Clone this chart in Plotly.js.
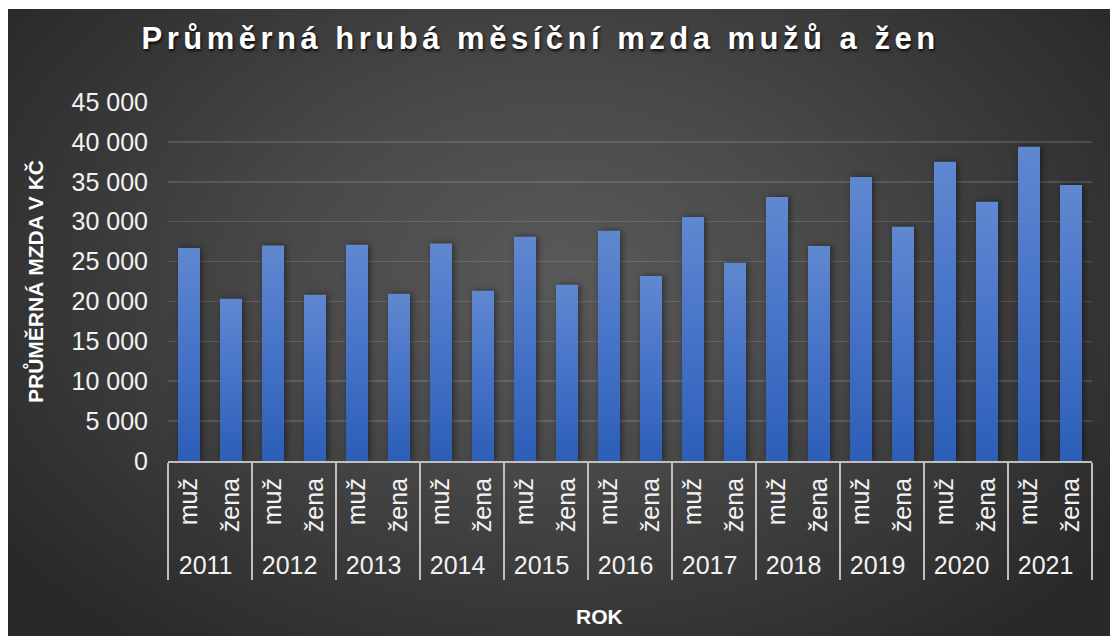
<!DOCTYPE html>
<html>
<head>
<meta charset="utf-8">
<script src="https://cdn.plot.ly/plotly-3.0.1.min.js"></script>
<style>
  html, body { margin: 0; padding: 0; background: #ffffff; }
  #wrap { position: relative; width: 1110px; height: 636px; overflow: hidden; background: #ffffff; }
  #bg { position: absolute; left: 8px; top: 9px; right: 0; bottom: 0;
        background: radial-gradient(ellipse 62% 75% at 50% 42%, #595959 0%, #494949 40%, #363636 75%, #292929 100%); }
  #chart { position: absolute; left: 0; top: 0; width: 1110px; height: 636px; }
  .gtitle { letter-spacing: 4.5px; }
</style>
</head>
<body>
<div id="wrap">
  <div id="bg"></div>
  <div id="chart"></div>
</div>
<script>
// ---- data ----
const years = ['2011','2012','2013','2014','2015','2016','2017','2018','2019','2020','2021'];
const sexLabels = ['muž', 'žena'];
const men   = [26700, 27000, 27100, 27250, 28100, 28850, 30600, 33100, 35600, 37500, 39400];
const women = [20350, 20850, 20950, 21350, 22100, 23200, 24850, 26950, 29350, 32500, 34600];
const titleText = 'Průměrná hrubá měsíční mzda mužů a žen';
const yTitle = 'PRŮMĚRNÁ MZDA V KČ';
const xTitle = 'ROK';

// interleave into a multicategory trace
const xOuter = [], xInner = [], yVals = [];
years.forEach((yr, i) => {
  xOuter.push(yr); xInner.push(sexLabels[0]); yVals.push(men[i]);
  xOuter.push(yr); xInner.push(sexLabels[1]); yVals.push(women[i]);
});

const trace = {
  type: 'bar',
  x: [xOuter, xInner],
  y: yVals,
  marker: { color: '#4472C4', line: { width: 0 } },
  hoverinfo: 'x+y'
};

const font = 'Liberation Sans, Arial, sans-serif';

const layout = {
  width: 1110,
  height: 636,
  paper_bgcolor: 'rgba(0,0,0,0)',
  plot_bgcolor: 'rgba(0,0,0,0)',
  margin: { l: 168, r: 18, t: 102, b: 175 },
  separators: ', ',
  showlegend: false,
  bargap: 0.476,
  font: { family: font, color: '#f2f2f2', size: 25 },
  title: {
    text: titleText,
    font: { family: font, size: 31, weight: 'bold', color: '#ffffff',
            shadow: '1px 2px 3px rgba(0,0,0,0.85)' },
    xref: 'container', x: 0.487, xanchor: 'center',
    yref: 'container', y: 0.94, yanchor: 'middle'
  },
  xaxis: {
    type: 'multicategory',
    showline: true, linecolor: '#bfbfbf', linewidth: 2,
    showgrid: false, zeroline: false,
    ticks: '',
    tickangle: -90,
    tickfont: { family: font, size: 25, color: '#f2f2f2' },
    showdividers: true, dividercolor: '#bfbfbf', dividerwidth: 2,
    ticklabelstandoff: 5
  },
  yaxis: {
    range: [0, 45000],
    dtick: 5000,
    tickformat: ',d',
    showgrid: true, gridcolor: 'rgba(255,255,255,0.13)', gridwidth: 1.5,
    zeroline: false, showline: false, ticks: '',
    tickfont: { family: font, size: 25, color: '#f2f2f2' },
    ticklabelstandoff: 19,
    title: { text: yTitle, standoff: 22,
             font: { family: font, size: 21, weight: 'bold', color: '#ffffff' } }
  },
  annotations: [{
    text: xTitle, showarrow: false,
    xref: 'paper', x: 0.4675, xanchor: 'center',
    yref: 'paper', y: -0.4345, yanchor: 'middle',
    font: { family: font, size: 21, weight: 'bold', color: '#ffffff' }
  }]
};

Plotly.newPlot('chart', [trace], layout, { staticPlot: true, displayModeBar: false }).then(gd => {
  const svg = gd.querySelector('svg.main-svg');
  const ns = 'http://www.w3.org/2000/svg';
  let defs = svg.querySelector('defs');
  if (!defs) { defs = document.createElementNS(ns, 'defs'); svg.insertBefore(defs, svg.firstChild); }
  const grad = document.createElementNS(ns, 'linearGradient');
  grad.setAttribute('id', 'barGrad');
  grad.setAttribute('x1', '0'); grad.setAttribute('y1', '0');
  grad.setAttribute('x2', '0'); grad.setAttribute('y2', '1');
  [['0%', '#6088D0'], ['50%', '#4673C8'], ['100%', '#2C5EB8']].forEach(([o, c]) => {
    const s = document.createElementNS(ns, 'stop');
    s.setAttribute('offset', o); s.setAttribute('stop-color', c);
    grad.appendChild(s);
  });
  defs.appendChild(grad);
  gd.querySelectorAll('.barlayer .point path').forEach(p => {
    p.style.fill = 'url(#barGrad)';
    p.style.filter = 'drop-shadow(2px 0px 3px rgba(0,0,0,0.45))';
  });
});
</script>
</body>
</html>
